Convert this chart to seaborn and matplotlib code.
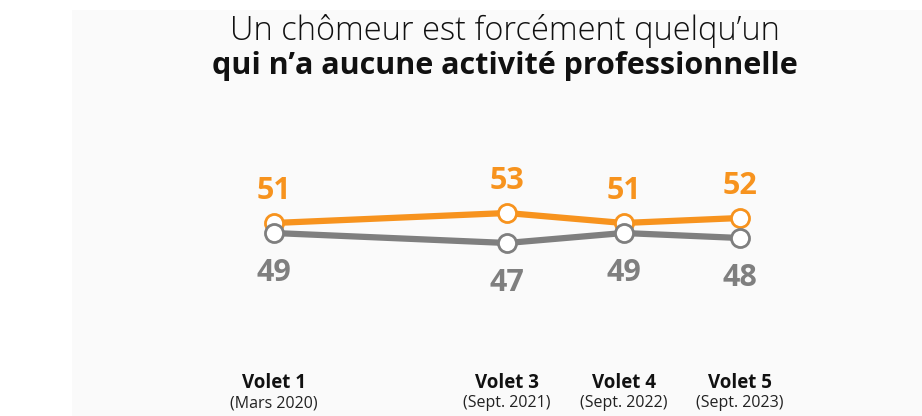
import matplotlib
matplotlib.use("Agg")
import matplotlib.pyplot as plt
from matplotlib.patches import Rectangle
import seaborn as sns
import pandas as pd

# Survey waves (wave number gives the horizontal position) and their labels
waves = ["Volet 1", "Volet 3", "Volet 4", "Volet 5"]
wave_dates = ["(Mars 2020)", "(Sept. 2021)", "(Sept. 2022)", "(Sept. 2023)"]
wave_num = [1, 3, 4, 5]

# Share of respondents (%)
agree = [51, 53, 51, 52]
disagree = [49, 47, 49, 48]

ORANGE = "#F7931E"
GREY = "#7F7F7F"

sns.set_theme(style="white")
plt.rcParams["font.family"] = ["Open Sans", "DejaVu Sans"]

W, H = 922, 416
fig = plt.figure(figsize=(W / 100, H / 100), dpi=100)
fig.patch.set_facecolor("white")
fig.patches.append(Rectangle((72 / W, 0), 1 - 72 / W, 1 - 10 / H,
                             transform=fig.transFigure, facecolor="#FAFAFA",
                             edgecolor="none", zorder=0))

ax = fig.add_axes([0, 0, 1, 1])
ax.set_facecolor("none")
ax.set_zorder(2)

df = pd.DataFrame({"wave": wave_num * 2,
                   "value": agree + disagree,
                   "serie": ["agree"] * 4 + ["disagree"] * 4})

for name, color, z in [("agree", ORANGE, 3), ("disagree", GREY, 4)]:
    sns.lineplot(data=df[df["serie"] == name], x="wave", y="value", ax=ax,
                 color=color, linewidth=4.5, marker="o", markersize=13,
                 markerfacecolor="white", markeredgecolor=color,
                 markeredgewidth=2, zorder=z, legend=False)

# pixel mapping: ~116.5 px per wave, wave 1 at 274 px; y -> 5 px per point
px_per_wave = 116.5
x0 = wave_num[0] - 274 / px_per_wave
x1 = wave_num[0] + (W - 274) / px_per_wave
ax.set_xlim(x0, x1)
ax.set_ylim(51 - (H - 223) / 5, 51 + 223 / 5)
ax.axis("off")

for x, a, d in zip(wave_num, agree, disagree):
    ax.annotate(f"{a}", (x, a), xytext=(0, 32), textcoords="offset pixels",
                ha="center", va="center", fontsize=22, fontweight="bold",
                color=ORANGE)
    ax.annotate(f"{d}", (x, d), xytext=(0, -40), textcoords="offset pixels",
                ha="center", va="center", fontsize=22, fontweight="bold",
                color=GREY)

for x, w, dt in zip(wave_num, waves, wave_dates):
    ax.text(x, 1 - 383 / H, w, transform=ax.get_xaxis_transform(),
            ha="center", va="center", fontsize=13.5, fontweight="bold",
            color="#111111")
    ax.text(x, 1 - 403 / H, dt, transform=ax.get_xaxis_transform(),
            ha="center", va="center", fontsize=11.5, color="#222222")

fig.text(505 / W, 1 - 31 / H, "Un chômeur est forcément quelqu’un",
         ha="center", va="center", fontsize=23.5, fontweight="light",
         color="#111111")
fig.text(505 / W, 1 - 66 / H, "qui n’a aucune activité professionnelle",
         ha="center", va="center", fontsize=22, fontweight="bold",
         color="#111111")

fig.savefig("out.png", dpi=100)
